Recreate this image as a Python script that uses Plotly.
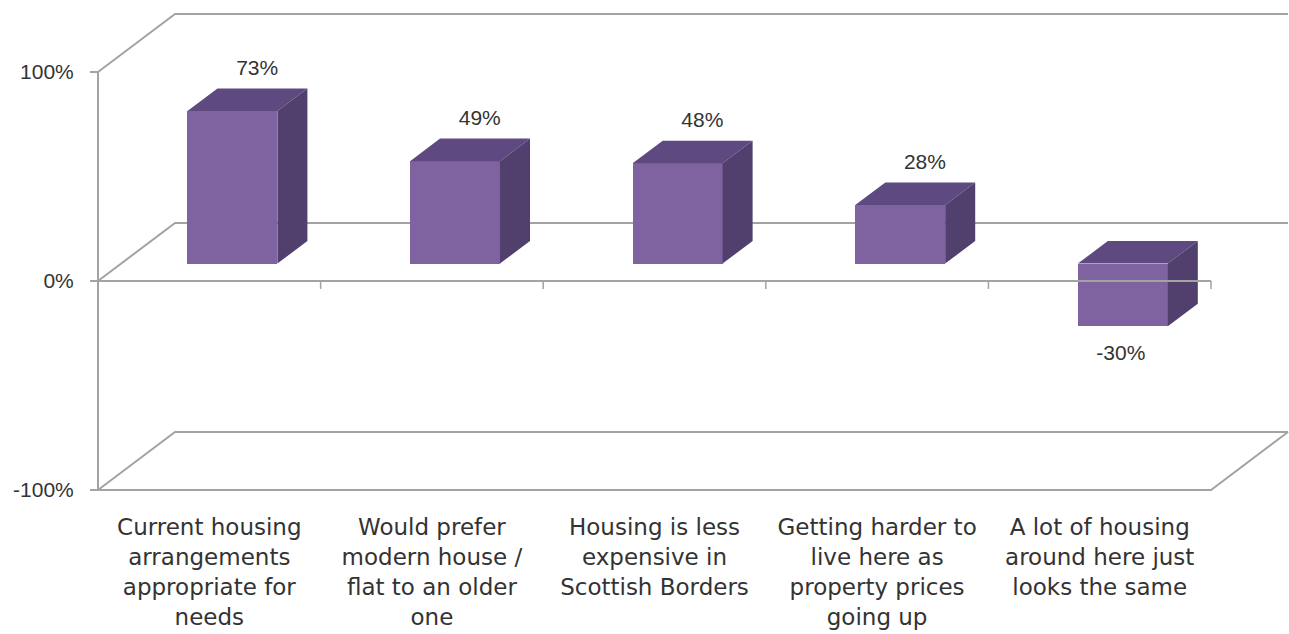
import plotly.graph_objects as go

# Survey statements and net agreement scores (%)
categories = [
    "Current housing<br>arrangements<br>appropriate for<br>needs",
    "Would prefer<br>modern house /<br>flat to an older<br>one",
    "Housing is less<br>expensive in<br>Scottish Borders",
    "Getting harder to<br>live here as<br>property prices<br>going up",
    "A lot of housing<br>around here just<br>looks the same",
]
values = [73, 49, 48, 28, -30]
y_tick_values = [-100, 0, 100]
y_tick_labels = ["-100%", "0%", "100%"]

# 3-D projection helpers (depth expressed in axis units)
DEPTH_X = 0.346          # horizontal shift of the back wall, in category units
DEPTH_Y = 27.75          # vertical shift of the back wall, in % units
BAR_FRONT = 0.30         # depth fraction of the bar front faces
BAR_BACK = 0.69          # depth fraction of the bar back faces
BAR_W = 0.404

FRONT_COL = "#7F63A1"
TOP_COL = "#5E4A80"
SIDE_COL = "#51406D"
LINE_COL = "#A3A3A3"
TEXT_COL = "#333333"

x_idx = list(range(len(values)))
fx0, fy0 = BAR_FRONT * DEPTH_X, BAR_FRONT * DEPTH_Y
fx1, fy1 = BAR_BACK * DEPTH_X, BAR_BACK * DEPTH_Y

fig = go.Figure()

# Front faces of the boxes
fig.add_trace(go.Bar(
    x=[i + fx0 for i in x_idx], y=values, base=fy0, width=BAR_W,
    marker=dict(color=FRONT_COL, line=dict(width=0)),
    hoverinfo="skip", showlegend=False,
))

# Top and side faces
top_x, top_y, side_x, side_y = [], [], [], []
for i, v in zip(x_idx, values):
    hi, lo = max(v, 0), min(v, 0)
    xl, xr = i - BAR_W / 2, i + BAR_W / 2
    top_x += [xl + fx0, xr + fx0, xr + fx1, xl + fx1, xl + fx0, None]
    top_y += [hi + fy0, hi + fy0, hi + fy1, hi + fy1, hi + fy0, None]
    side_x += [xr + fx0, xr + fx1, xr + fx1, xr + fx0, xr + fx0, None]
    side_y += [hi + fy0, hi + fy1, lo + fy1, lo + fy0, hi + fy0, None]

fig.add_trace(go.Scatter(x=top_x, y=top_y, fill="toself", fillcolor=TOP_COL,
                         mode="lines", line=dict(width=0, color=TOP_COL),
                         hoverinfo="skip", showlegend=False))
fig.add_trace(go.Scatter(x=side_x, y=side_y, fill="toself", fillcolor=SIDE_COL,
                         mode="lines", line=dict(width=0, color=SIDE_COL),
                         hoverinfo="skip", showlegend=False))

# Value labels
lab_x = [i + (0.215 if v >= 0 else 0.095) for i, v in zip(x_idx, values)]
lab_y = [v + 28.2 if v >= 0 else v - 5.4 for v in values]
fig.add_trace(go.Scatter(
    x=lab_x, y=lab_y, mode="text", text=[f"{v}%" for v in values],
    textposition="middle center",
    textfont=dict(family="Liberation Sans", size=21, color=TEXT_COL),
    hoverinfo="skip", showlegend=False, cliponaxis=False,
))

# Walls, floor and axis lines
x_left, x_right = -0.5, len(values) - 0.5
shapes = []
line = dict(color=LINE_COL, width=2)
for yv in y_tick_values:
    shapes.append(dict(type="path", xref="x", yref="y", layer="below", line=line,
                       path=f"M{x_left},{yv} L{x_left + DEPTH_X},{yv + DEPTH_Y} "
                            f"L{x_right + DEPTH_X},{yv + DEPTH_Y}"))
# floor front and right edges
ymin = y_tick_values[0]
shapes.append(dict(type="path", xref="x", yref="y", layer="below", line=line,
                   path=f"M{x_left},{ymin} L{x_right},{ymin} "
                        f"L{x_right + DEPTH_X},{ymin + DEPTH_Y}"))
# vertical value axis
shapes.append(dict(type="line", xref="x", yref="y", layer="below", line=line,
                   x0=x_left, x1=x_left, y0=y_tick_values[0], y1=y_tick_values[-1]))
# category axis at 0 with tick marks
shapes.append(dict(type="line", xref="x", yref="y", layer="above", line=line,
                   x0=x_left, x1=x_right, y0=0, y1=0))
for k in range(1, len(values) + 1):
    shapes.append(dict(type="line", xref="x", yref="y", layer="above",
                       line=dict(color=LINE_COL, width=1.5),
                       x0=x_left + k, x1=x_left + k, y0=0, y1=-3.8))

W, H = 1289, 634
plot_bottom = 492
px_per_cat = 222.6
px_per_pct = 2.09
zero_px = 281
x0 = -(209.3 / px_per_cat)
x1 = x0 + W / px_per_cat
y_top = zero_px / px_per_pct
y_bot = -(plot_bottom - zero_px) / px_per_pct

fig.update_layout(
    width=W, height=H,
    margin=dict(l=0, r=0, t=0, b=H - plot_bottom),
    paper_bgcolor="white", plot_bgcolor="white",
    shapes=shapes, bargap=0,
    xaxis=dict(range=[x0, x1], showgrid=False, zeroline=False, showline=False,
               tickmode="array", tickvals=x_idx, ticktext=categories, ticks="",
               tickangle=0, ticklabelstandoff=19,
               tickfont=dict(family="DejaVu Sans", size=23, color=TEXT_COL)),
    yaxis=dict(range=[y_bot, y_top], showgrid=False, zeroline=False, showline=False,
               anchor="free", position=98 / W,
               tickmode="array", tickvals=y_tick_values, ticktext=y_tick_labels,
               ticks="outside", ticklen=8, tickwidth=2, tickcolor=LINE_COL,
               ticklabelstandoff=12,
               tickfont=dict(family="Liberation Sans", size=21, color=TEXT_COL)),
)

fig.write_html("out.html")
